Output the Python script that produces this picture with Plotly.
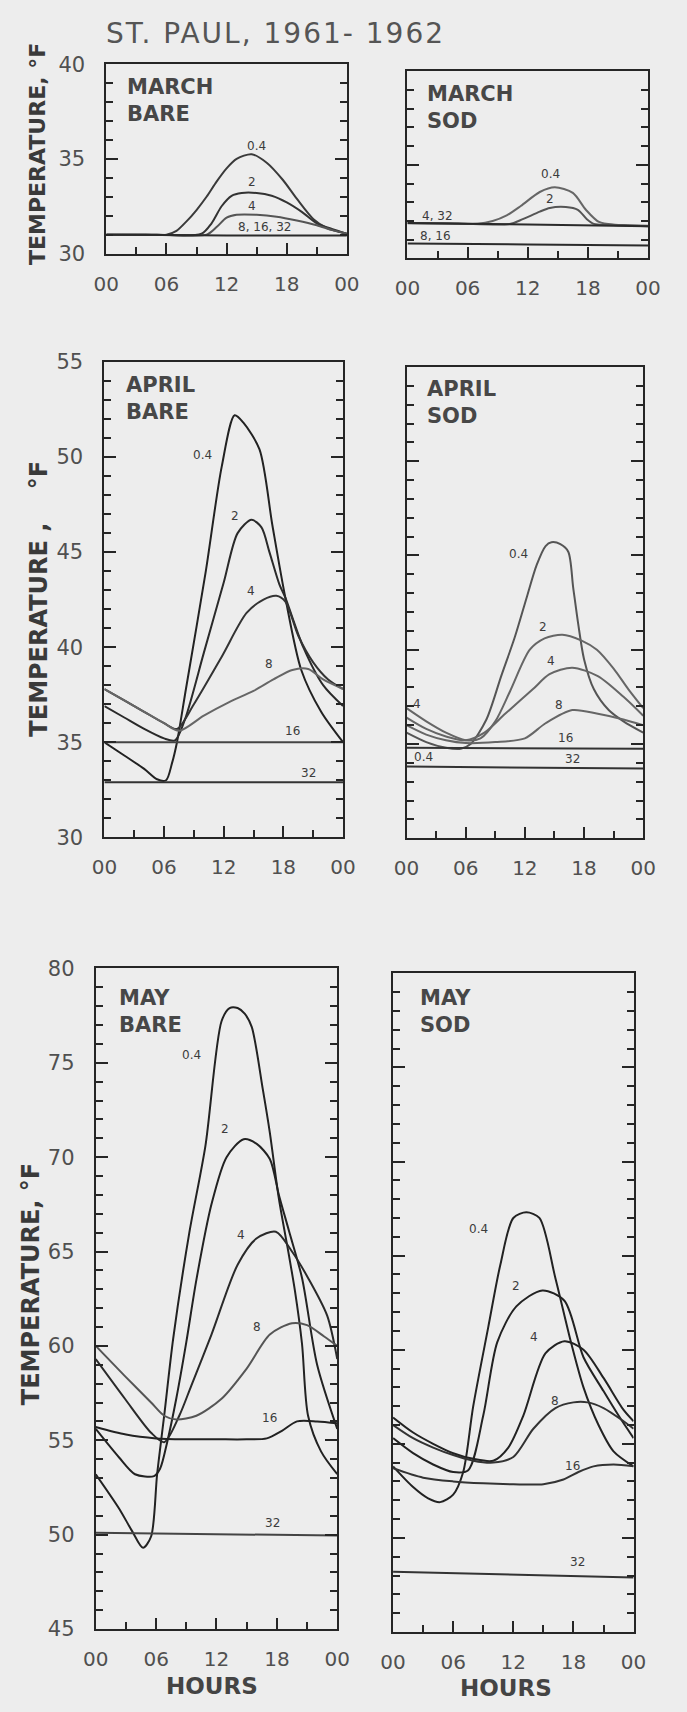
import plotly.graph_objects as go

W, H = 687, 1712

# ---------------- data: hour of day vs. soil temperature (deg F) ----------------
hour_ticks = [0, 6, 12, 18, 24]
hour_labels = ["00", "06", "12", "18", "00"]

# MARCH, bare soil
mar_bare_04_h = [0, 3, 6, 7, 8, 9, 10, 11, 12, 13, 14.5, 16, 17.6, 19, 20.7, 22, 24]
mar_bare_04_t = [31, 31, 31, 31.2, 31.7, 32.3, 33.0, 33.8, 34.5, 35.0, 35.25, 34.8, 33.9, 32.9, 31.8, 31.35, 31.05]
mar_bare_2_h = [0, 5, 9.5, 10.5, 11.5, 12.5, 13.5, 15, 16.5, 18, 19.5, 21, 22.5, 24]
mar_bare_2_t = [31, 31, 31.05, 31.6, 32.5, 33.05, 33.2, 33.2, 33.05, 32.7, 32.2, 31.6, 31.3, 31.05]
mar_bare_4_h = [0, 5, 10, 11, 12, 13, 15, 17, 19, 21, 22.5, 24]
mar_bare_4_t = [31, 31, 31.0, 31.4, 31.9, 32.05, 32.05, 31.95, 31.75, 31.5, 31.25, 31.05]
mar_bare_deep_h = [0, 6, 12, 18, 24]
mar_bare_deep_t = [31.0, 30.98, 30.95, 30.95, 30.95]

# MARCH, sod
mar_sod_04_h = [0, 4, 7, 8.5, 9.9, 11.3, 13.2, 14.7, 16.5, 17.8, 19.1, 20.7, 22, 24]
mar_sod_04_t = [31.9, 31.88, 31.85, 32.0, 32.3, 32.8, 33.55, 33.8, 33.5, 32.6, 31.95, 31.8, 31.78, 31.75]
mar_sod_2_h = [0, 5, 10.3, 11.5, 13.2, 14.2, 15.8, 17, 17.9, 18.6, 20, 24]
mar_sod_2_t = [31.88, 31.86, 31.85, 32.1, 32.5, 32.7, 32.75, 32.6, 32.1, 31.85, 31.8, 31.72]
mar_sod_4_32_h = [0, 12, 24]
mar_sod_4_32_t = [31.9, 31.82, 31.72]
mar_sod_8_16_h = [0, 12, 24]
mar_sod_8_16_t = [30.8, 30.75, 30.7]

# APRIL, bare soil
apr_bare_04_h = [0, 2, 4, 5.3, 6.2, 6.8, 7.3, 8.2, 10.2, 11.8, 13.1, 14.0, 15.6, 16.9, 18.2, 19.8, 21.8, 24]
apr_bare_04_t = [35.0, 34.3, 33.6, 33.05, 33.0, 33.9, 35.0, 37.8, 44.0, 49.5, 52.2, 51.8, 50.4, 46.4, 42.6, 38.8, 36.6, 35.0]
apr_bare_2_h = [0, 2, 4, 6, 7.1, 8.1, 10, 12, 13.4, 14.8, 15.8, 16.6, 17.6, 18.2, 20, 22, 24]
apr_bare_2_t = [36.9, 36.3, 35.7, 35.2, 35.1, 36.2, 39.7, 43.4, 46.0, 46.7, 46.3, 45.0, 43.3, 42.6, 40.0, 38.0, 36.9]
apr_bare_4_h = [0, 2, 4, 6, 7.3, 9, 11.8, 14.3, 16, 17.3, 18.2, 19.5, 21, 22.5, 24]
apr_bare_4_t = [37.8, 37.2, 36.6, 36.0, 35.7, 37.0, 39.5, 41.8, 42.5, 42.7, 42.4, 40.6, 39.2, 38.3, 37.8]
apr_bare_8_h = [0, 2, 4, 6, 7.5, 10, 12.5, 15, 17, 18.9, 20.5, 22, 24]
apr_bare_8_t = [37.8, 37.2, 36.6, 36.0, 35.6, 36.4, 37.1, 37.7, 38.3, 38.8, 38.85, 38.3, 37.8]
apr_bare_16_h = [0, 24]
apr_bare_16_t = [35.0, 35.0]
apr_bare_32_h = [0, 24]
apr_bare_32_t = [32.9, 32.9]

# APRIL, sod
apr_sod_04_h = [0, 2, 4, 5.5, 6.5, 8.1, 9.6, 11.0, 12.2, 13.2, 14.1, 14.7, 15.6, 16.4, 16.9, 17.4, 18, 19, 20.5, 22, 24]
apr_sod_04_t = [35.6, 35.1, 34.8, 34.75, 35.0, 36.3, 38.6, 40.7, 42.8, 44.5, 45.5, 45.7, 45.6, 45.2, 43.3, 41.4, 39.5, 37.9, 36.8, 36.2, 35.6]
apr_sod_2_h = [0, 2, 4, 6, 7.5, 9, 10.5, 12.5, 14, 15.8, 17.7, 19.3, 21, 22.5, 24]
apr_sod_2_t = [36.9, 36.2, 35.6, 35.2, 35.3, 36.2, 37.8, 40.0, 40.6, 40.8, 40.5, 40.0, 39.0, 37.9, 36.9]
apr_sod_4_h = [0, 2, 4, 6, 7.9, 10, 12.8, 14.5, 16.8, 19.4, 22, 24]
apr_sod_4_t = [36.4, 35.8, 35.4, 35.2, 35.6, 36.6, 37.9, 38.7, 39.05, 38.6, 37.5, 36.5]
apr_sod_8_h = [0, 2, 4, 6, 9, 12, 14.1, 16.8, 19.4, 22, 24]
apr_sod_8_t = [36.0, 35.5, 35.2, 35.05, 35.1, 35.3, 36.1, 36.8, 36.6, 36.3, 36.0]
apr_sod_16_h = [0, 24]
apr_sod_16_t = [34.8, 34.75]
apr_sod_32_h = [0, 24]
apr_sod_32_t = [33.8, 33.7]

# MAY, bare soil
may_bare_04_h = [0, 2.3, 3.6, 4.7, 5.5, 6.1, 6.8, 7.7, 9.3, 10.9, 12.5, 13.3, 14.1, 14.8, 15.5, 16.6, 17.3, 18.2, 19.2, 19.8, 20.5, 21.1, 22.4, 24]
may_bare_04_t = [53.2, 51.4, 50.2, 49.3, 49.9, 53.2, 56.3, 60.4, 66.0, 70.6, 77.2, 77.9, 77.9, 77.6, 76.9, 73.6, 71.3, 67.8, 64.8, 62.9, 60.1, 56.3, 54.4, 53.2]
may_bare_2_h = [0, 2.3, 3.9, 5.8, 6.4, 7.1, 8.0, 9.0, 10, 11.5, 13, 14.7, 16, 17.3, 18.2, 19.2, 20.5, 22, 24]
may_bare_2_t = [55.6, 54.1, 53.2, 53.1, 53.5, 54.9, 57.2, 60.2, 63.5, 67.5, 70.0, 70.95, 70.7, 69.9, 68.0, 66.1, 63.6, 59.0, 55.6]
may_bare_4_h = [0, 2.9, 5.5, 6.8, 8.3, 9.5, 11.5, 14.1, 16, 17.9, 19.5, 21.1, 23, 24]
may_bare_4_t = [59.3, 57.2, 55.4, 54.9, 56.3, 57.9, 60.6, 64.3, 65.7, 66.05, 65.0, 63.6, 61.6, 59.3]
may_bare_8_h = [0, 2.9, 5.5, 6.8, 8.0, 10, 12.5, 15, 17.3, 19.5, 21, 22.7, 24]
may_bare_8_t = [60.0, 58.4, 57.0, 56.3, 56.1, 56.3, 57.2, 58.8, 60.6, 61.2, 61.1, 60.5, 60.0]
may_bare_16_h = [0, 3, 6, 9, 12, 15, 17, 18.5, 20, 22, 24]
may_bare_16_t = [55.7, 55.3, 55.1, 55.05, 55.05, 55.05, 55.1, 55.5, 56.0, 56.0, 55.9]
may_bare_32_h = [0, 24]
may_bare_32_t = [50.1, 49.95]

# MAY, sod
may_sod_04_h = [0, 2, 3.5, 4.7, 6, 7, 8, 9.5, 10.7, 12, 13.3, 14.6, 16.2, 17.8, 19, 20.5, 22, 24]
may_sod_04_t = [53.8, 52.7, 52.1, 51.9, 52.3, 53.5, 57.0, 61.2, 64.5, 67.0, 67.3, 67.0, 63.8, 60.3, 58.0, 56.0, 54.6, 53.8]
may_sod_2_h = [0, 2, 4, 6, 7.5, 9, 10.4, 12.3, 14.9, 17.1, 19, 21, 22.5, 24]
may_sod_2_t = [55.3, 54.5, 53.9, 53.5, 53.6, 56.5, 60.4, 62.3, 63.15, 62.6, 59.6, 57.8, 56.5, 55.3]
may_sod_4_h = [0, 2, 4, 6, 8, 10, 11.5, 13, 15.2, 17.1, 19, 21, 23, 24]
may_sod_4_t = [56.4, 55.6, 55.0, 54.5, 54.2, 54.1, 54.8, 56.5, 59.8, 60.45, 60.0, 58.5, 56.8, 56.2]
may_sod_8_h = [0, 2, 4, 6, 8, 10, 12, 14, 16.2, 18, 19.4, 21, 23, 24]
may_sod_8_t = [56.0, 55.3, 54.8, 54.4, 54.1, 54.0, 54.3, 55.8, 56.9, 57.2, 57.2, 56.9, 56.2, 55.8]
may_sod_16_h = [0, 3, 6, 9, 12, 15, 17, 18.5, 20, 22, 24]
may_sod_16_t = [53.7, 53.2, 53.0, 52.9, 52.85, 52.85, 53.1, 53.5, 53.8, 53.9, 53.8]
may_sod_32_h = [0, 24]
may_sod_32_t = [48.2, 47.9]

# ---------------- panel layout (pixel boxes) ----------------
panels = [
    # name, x-left, x-right, y-top, y-bottom, y-range, show y labels, caption, caption pos
    ("1", 97, 347, 53, 245, [30, 40], True, "MARCH<br>BARE", (116, 62)),
    ("2", 410, 660, 60, 250, [30, 40], False, "MARCH<br>SOD", (428, 69)),
    ("3", 95, 343, 355, 837, [30, 55], True, "APRIL<br>BARE", (115, 364)),
    ("4", 409, 655, 360, 838, [30, 55], False, "APRIL<br>SOD", (428, 368)),
    ("5", 86, 337, 970, 1640, [45, 80], True, "MAY<br>BARE", (108, 986)),
    ("6", 395, 645, 975, 1643, [45, 80], False, "MAY<br>SOD", (421, 986)),
]

series = {
    "1": [(mar_bare_04_h, mar_bare_04_t, "#3a3a3a"), (mar_bare_2_h, mar_bare_2_t, "#333"),
          (mar_bare_4_h, mar_bare_4_t, "#555"), (mar_bare_deep_h, mar_bare_deep_t, "#2a2a2a")],
    "2": [(mar_sod_04_h, mar_sod_04_t, "#666"), (mar_sod_2_h, mar_sod_2_t, "#555"),
          (mar_sod_4_32_h, mar_sod_4_32_t, "#2a2a2a"), (mar_sod_8_16_h, mar_sod_8_16_t, "#2a2a2a")],
    "3": [(apr_bare_04_h, apr_bare_04_t, "#222"), (apr_bare_2_h, apr_bare_2_t, "#2a2a2a"),
          (apr_bare_4_h, apr_bare_4_t, "#333"), (apr_bare_8_h, apr_bare_8_t, "#666"),
          (apr_bare_16_h, apr_bare_16_t, "#444"), (apr_bare_32_h, apr_bare_32_t, "#333")],
    "4": [(apr_sod_04_h, apr_sod_04_t, "#555"), (apr_sod_2_h, apr_sod_2_t, "#666"),
          (apr_sod_4_h, apr_sod_4_t, "#666"), (apr_sod_8_h, apr_sod_8_t, "#666"),
          (apr_sod_16_h, apr_sod_16_t, "#333"), (apr_sod_32_h, apr_sod_32_t, "#333")],
    "5": [(may_bare_04_h, may_bare_04_t, "#222"), (may_bare_2_h, may_bare_2_t, "#222"),
          (may_bare_4_h, may_bare_4_t, "#2a2a2a"), (may_bare_8_h, may_bare_8_t, "#555"),
          (may_bare_16_h, may_bare_16_t, "#222"), (may_bare_32_h, may_bare_32_t, "#444")],
    "6": [(may_sod_04_h, may_sod_04_t, "#222"), (may_sod_2_h, may_sod_2_t, "#222"),
          (may_sod_4_h, may_sod_4_t, "#222"), (may_sod_8_h, may_sod_8_t, "#333"),
          (may_sod_16_h, may_sod_16_t, "#333"), (may_sod_32_h, may_sod_32_t, "#333")],
}

# depth labels (inches) placed in data coordinates
depth_labels = {
    "1": [("0.4", 15.0, 35.7), ("2", 14.5, 33.8), ("4", 14.5, 32.5), ("8, 16, 32", 15.8, 31.4)],
    "2": [("4, 32", 3.0, 32.25), ("8, 16", 2.8, 31.2), ("0.4", 14.3, 34.5), ("2", 14.2, 33.2)],
    "3": [("0.4", 9.85, 50.1), ("2", 13.1, 46.9), ("4", 14.7, 42.95), ("8", 16.6, 39.1),
          ("16", 18.9, 35.6), ("32", 20.5, 33.4)],
    "4": [("0.4", 11.4, 45.1), ("2", 13.8, 41.2), ("4", 14.6, 39.4), ("8", 15.5, 37.05),
          ("4", 1.1, 37.1), ("16", 16.1, 35.3), ("32", 16.8, 34.2), ("0.4", 1.7, 34.3)],
    "5": [("0.4", 9.5, 75.4), ("2", 12.8, 71.5), ("4", 14.4, 65.9), ("8", 16.0, 61.0),
          ("16", 17.3, 56.2), ("32", 17.6, 50.6)],
    "6": [("0.4", 8.5, 66.4), ("2", 12.3, 63.4), ("4", 14.1, 60.7), ("8", 16.2, 57.3),
          ("16", 17.9, 53.8), ("32", 18.4, 48.7)],
}

BG = "#ededed"
INK = "#262626"
TXT = "#505050"
FONT = "DejaVu Sans"
NB = "\u00a0"

fig = go.Figure()
layout = dict(
    width=W, height=H, autosize=False, margin=dict(l=0, r=0, t=0, b=0),
    paper_bgcolor=BG, plot_bgcolor=BG, showlegend=False,
)
annotations = []

for key, xl, xr, yt, yb, yr, showy, caption, cpos in panels:
    xa = "xaxis" if key == "1" else f"xaxis{key}"
    ya = "yaxis" if key == "1" else f"yaxis{key}"
    xref = "x" if key == "1" else f"x{key}"
    yref = "y" if key == "1" else f"y{key}"
    layout[xa] = dict(
        domain=[xl / W, xr / W], range=[0, 24], anchor=yref,
        tickmode="array", tickvals=hour_ticks, ticktext=hour_labels,
        ticks="inside", ticklen=11, tickwidth=2, tickcolor=INK,
        minor=dict(dtick=3, tick0=0, ticks="inside", ticklen=7, tickwidth=2, tickcolor=INK),
        showline=True, linewidth=2, linecolor=INK, mirror=True,
        showgrid=False, zeroline=False, ticklabelstandoff=11,
        tickfont=dict(family=FONT, size=20, color=TXT), fixedrange=True,
    )
    layout[ya] = dict(
        domain=[1 - yb / H, 1 - yt / H], range=yr, anchor=xref,
        dtick=5, tick0=0, ticks="inside", ticklen=12, tickwidth=2, tickcolor=INK,
        minor=dict(dtick=1, ticks="inside", ticklen=7, tickwidth=2, tickcolor=INK),
        showline=True, linewidth=2, linecolor=INK, mirror="ticks",
        showgrid=False, zeroline=False, showticklabels=showy, ticklabelstandoff=15,
        tickfont=dict(family=FONT, size=21, color=TXT), fixedrange=True,
    )
    for hx, ty, col in series[key]:
        fig.add_trace(go.Scatter(
            x=hx, y=ty, mode="lines", xaxis=xref, yaxis=yref,
            line=dict(color=col, width=2, shape="spline", smoothing=0.8),
            hoverinfo="skip",
        ))
    for txt, hx, ty in depth_labels[key]:
        annotations.append(dict(
            x=hx, y=ty, xref=xref, yref=yref, text=txt, showarrow=False,
            xanchor="center", yanchor="middle",
            font=dict(family=FONT, size=12, color="#3c3c3c"),
        ))
    annotations.append(dict(
        x=cpos[0] / W, y=1 - cpos[1] / H, xref="paper", yref="paper",
        xanchor="left", yanchor="top", align="left", text="<b>" + caption + "</b>",
        showarrow=False, font=dict(family=FONT, size=21, color="#474747"),
    ))

# figure-level texts
annotations += [
    dict(x=95 / W, y=1 - 22 / H, xref="paper", yref="paper", xanchor="left", yanchor="middle",
         text="<span style='letter-spacing:2px'>ST. PAUL, 1961- 1962</span>", showarrow=False,
         font=dict(family=FONT, size=28, color="#555")),
    dict(x=26 / W, y=1 - 144 / H, xref="paper", yref="paper", textangle=-90,
         xanchor="center", yanchor="middle",
         text="<b>TEMPERATURE, °F</b>", showarrow=False,
         font=dict(family=FONT, size=22, color="#3a3a3a")),
    dict(x=27 / W, y=1 - 595 / H, xref="paper", yref="paper", textangle=-90,
         xanchor="center", yanchor="middle",
         text="<b>TEMPERATURE" + NB + "," + NB * 4 + "°F</b>", showarrow=False,
         font=dict(family=FONT, size=24, color="#3a3a3a")),
    dict(x=19 / W, y=1 - 1290 / H, xref="paper", yref="paper", textangle=-90,
         xanchor="center", yanchor="middle",
         text="<b>TEMPERATURE, °F</b>", showarrow=False,
         font=dict(family=FONT, size=24, color="#3a3a3a")),
    dict(x=207 / W, y=1 - 1698 / H, xref="paper", yref="paper",
         xanchor="center", yanchor="middle",
         text="<b>HOURS</b>", showarrow=False,
         font=dict(family=FONT, size=23, color="#444")),
    dict(x=512 / W, y=1 - 1700 / H, xref="paper", yref="paper",
         xanchor="center", yanchor="middle",
         text="<b>HOURS</b>", showarrow=False,
         font=dict(family=FONT, size=23, color="#444")),
]
layout["annotations"] = annotations
fig.update_layout(**layout)

# let the figure fill the page edge to edge
page_js = (
    "document.body.style.margin='0';"
    "document.body.style.padding='0';"
    "document.body.style.background='" + BG + "';"
    "document.documentElement.style.background='" + BG + "';"
)
fig.write_html("out.html", post_script=page_js)
